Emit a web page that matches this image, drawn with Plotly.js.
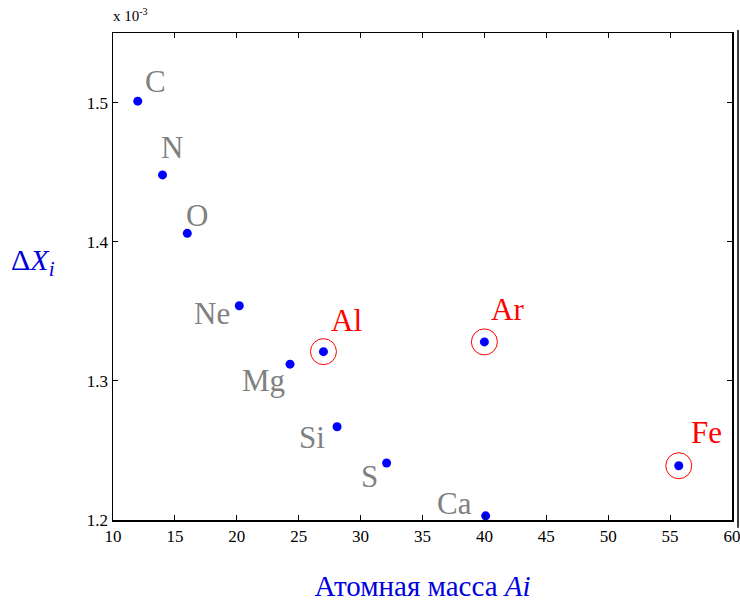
<!DOCTYPE html>
<html><head><meta charset="utf-8">
<script src="https://cdn.plot.ly/plotly-3.0.1.min.js"></script>
<style>html,body{margin:0;padding:0;background:#fff;}
.exp{position:absolute;left:113px;top:9px;z-index:10;font-family:'Liberation Serif';font-size:15px;line-height:15px;color:#000;}
.exp sup{font-size:10px;vertical-align:6px;line-height:0;}</style>
</head><body>
<div id="chart" style="width:740px;height:602px;"></div>
<div class="exp">x 10<sup>-3</sup></div>
<script>
// Data (ΔX_i in units of 1e-3)
const elements = ["C","N","O","Ne","Mg","Al","Si","S","Ar","Ca","Fe"];
const atomicMass = [12.0, 14.0, 16.0, 20.2, 24.3, 27.0, 28.1, 32.1, 40.0, 40.1, 55.7];
const deltaX = [1.501, 1.448, 1.406, 1.354, 1.312, 1.321, 1.267, 1.241, 1.328, 1.203, 1.239];
const highlighted = ["Al","Ar","Fe"];
const xTicks = [10,15,20,25,30,35,40,45,50,55,60];
const yTicks = [1.2,1.3,1.4,1.5];

// label offsets (px) – styling only
const shifts = {C:[18,20],N:[9,27],O:[10,18],Ne:[-27,-8],Mg:[-27,-16],Al:[23,31],Si:[-25,-11],S:[-17,-14],Ar:[23,32],Ca:[-31,12],Fe:[28,33]};

const SERIF = 'Liberation Serif';

const hx = [], hy = [];
elements.forEach((e,i)=>{ if(highlighted.includes(e)){ hx.push(atomicMass[i]); hy.push(deltaX[i]); } });

const traces = [
  {x: hx, y: hy, mode:'markers', type:'scatter', hoverinfo:'skip',
   marker:{symbol:'circle-open', size:26, color:'#ff0000', line:{width:1, color:'#ff0000'}}},
  {x: atomicMass, y: deltaX, mode:'markers', type:'scatter',
   marker:{symbol:'circle', size:9, color:'#0000ff'}}
];

const annotations = elements.map((e,i)=>({
  x: atomicMass[i], y: deltaX[i], xref:'x', yref:'y', text: e, showarrow:false,
  xanchor:'center', yanchor:'middle', xshift: shifts[e][0], yshift: shifts[e][1],
  font:{family:SERIF, size:31, color: highlighted.includes(e) ? '#ff0000' : '#808080'}
}));
annotations.push({xref:'paper', yref:'paper', x:-0.129, y:0.53, xanchor:'center', yanchor:'middle',
  text:'Δ<i>X<sub>i</sub></i>', showarrow:false,
  font:{family:SERIF, size:30, color:'#0000dd'}});

const axisFont = {family:SERIF, size:17, color:'#000'};
const layout = {
  width:740, height:602,
  margin:{l:113, r:8, t:33, b:82},
  paper_bgcolor:'#fff', plot_bgcolor:'#fff',
  showlegend:false,
  font:{family:SERIF},
  xaxis:{range:[10,60], tickvals:xTicks, ticktext:xTicks.map(String), ticklabeloverflow:'allow',
    showgrid:false, zeroline:false, showline:true, linecolor:'#000', linewidth:1.5,
    mirror:'ticks', ticks:'inside', ticklen:5, tickcolor:'#000', tickfont:axisFont,
    title:{text:'Атомная масса <i>Ai</i>', standoff:33,
      font:{family:SERIF, size:29, color:'#0000dd'}}},
  yaxis:{range:[1.2,1.55], tickvals:yTicks, ticktext:yTicks.map(v=>v.toFixed(1)),
    showgrid:false, zeroline:false, showline:true, linecolor:'#000', linewidth:1.5,
    mirror:'ticks', ticks:'inside', ticklen:5, tickcolor:'#000', tickfont:axisFont},
  annotations: annotations,
  shapes:[{type:'line', xref:'paper', yref:'paper', x0:1.0097, x1:1.0097, y0:-0.016, y1:1.006,
    line:{color:'#000', width:1.5}}]
};
const cfg = {displayModeBar:false, staticPlot:true};
Plotly.newPlot('chart', traces, layout, cfg);
setTimeout(()=>Plotly.newPlot('chart', traces, layout, cfg), 200);
</script>
</body></html>
